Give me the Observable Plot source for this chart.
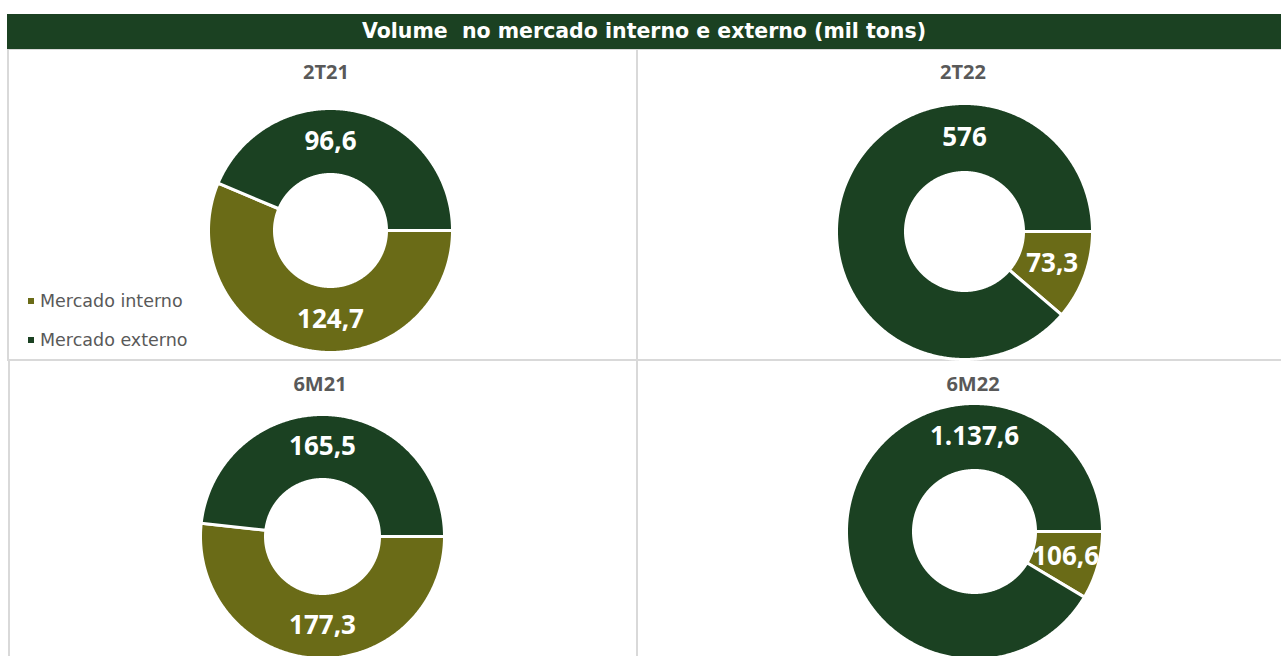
<!DOCTYPE html>
<html>
<head>
<meta charset="utf-8">
<script src="https://cdn.jsdelivr.net/npm/d3@7"></script>
<script src="https://cdn.jsdelivr.net/npm/@observablehq/plot@0.6"></script>
<style>
  html, body { margin: 0; padding: 0; background: #fff; }
  body { width: 1281px; height: 656px; overflow: hidden; position: relative; font-family: "Open Sans", sans-serif; }
  .abs { position: absolute; }
  .titlebar { left: 7px; top: 14px; width: 1274px; height: 35px; background: #1b4122; color: #fff;
    font-family: "DejaVu Sans", sans-serif; font-weight: 700; font-size: 20.5px; line-height: 35px; text-align: center; white-space: pre; }
  .panel { box-sizing: border-box; border: 2px solid #d9d9d9; background: #fff; }
  .ptitle { font-weight: 700; font-size: 20px; color: #595959; text-align: center; width: 200px; line-height: 24px; }
  .legend { font-family: "DejaVu Sans", sans-serif; font-size: 17.5px; color: #595959; line-height: 24px; white-space: nowrap; }
  .legend span.sw { display: inline-block; width: 6px; height: 6px; margin-right: 6px; vertical-align: middle; position: relative; top: -1px; }
</style>
</head>
<body>
<script>
// ---------- data ----------
const periods = ["2T21", "2T22", "6M21", "6M22"];
const categories = ["Mercado interno", "Mercado externo"];
const interno = [124.7, 73.3, 177.3, 106.6];
const externo = [96.6, 576, 165.5, 1137.6];
const colors = ["#6a6b17", "#1b4122"];
const titleText = "Volume  no mercado interno e externo (mil tons)";

// ---------- layout (page coordinates) ----------
const panelBoxes = [
  {left: 7,   top: 48,  width: 631, height: 313},
  {left: 636, top: 48,  width: 700, height: 313},
  {left: 8,   top: 359, width: 630, height: 400},
  {left: 636, top: 359, width: 700, height: 400}
];
const donutLayout = [
  {cx: 330, cy: 230, r: 122, ri: 56, tx: 326, ty: 72},
  {cx: 964, cy: 231, r: 128, ri: 59, tx: 963, ty: 72},
  {cx: 322, cy: 536, r: 122, ri: 57, tx: 320, ty: 384},
  {cx: 974, cy: 531, r: 128, ri: 61, tx: 973, ty: 384}
];

const fmt = d3.formatLocale({decimal: ",", thousands: ".", grouping: [3], currency: ["R$", ""]}).format(",.1~f");
const FONT = "Open Sans, sans-serif";

const body = document.body;
function el(cls, style, html) {
  const d = document.createElement("div");
  d.className = "abs " + cls;
  Object.assign(d.style, style);
  if (html !== undefined) d.innerHTML = html;
  body.appendChild(d);
  return d;
}

// panels
panelBoxes.forEach(b => el("panel", {left: b.left + "px", top: b.top + "px", width: b.width + "px", height: b.height + "px"}));
// title bar
el("titlebar", {}, "").textContent = titleText;

function donut(i) {
  const L = donutLayout[i];
  const vals = [interno[i], externo[i]];
  const total = d3.sum(vals);
  const pad = 4;
  const size = 2 * L.r + 2 * pad;
  const ri = L.ri / L.r;
  let acc = 0;
  const slices = categories.map((c, k) => {
    const a0 = Math.PI / 2 + acc / total * 2 * Math.PI;
    acc += vals[k];
    const a1 = Math.PI / 2 + acc / total * 2 * Math.PI;
    return {category: c, value: vals[k], a0, a1};
  });
  const pts = [];
  for (const s of slices) {
    const n = Math.max(2, Math.ceil((s.a1 - s.a0) / (Math.PI / 360)));
    for (let j = 0; j <= n; j++) {
      const a = s.a0 + (s.a1 - s.a0) * j / n;
      pts.push({category: s.category, x: Math.sin(a), y: Math.cos(a)});
    }
    for (let j = n; j >= 0; j--) {
      const a = s.a0 + (s.a1 - s.a0) * j / n;
      pts.push({category: s.category, x: ri * Math.sin(a), y: ri * Math.cos(a)});
    }
  }
  const lr = (1 + ri) / 2;
  const labels = slices.map(s => {
    let a;
    if (s.a0 < 2 * Math.PI && s.a1 > 2 * Math.PI) a = 0;
    else if (s.a0 < Math.PI && s.a1 > Math.PI) a = Math.PI;
    else a = (s.a0 + s.a1) / 2;
    return {x: lr * Math.sin(a), y: lr * Math.cos(a), text: fmt(s.value)};
  });
  const plot = Plot.plot({
    width: size, height: size, margin: 0,
    x: {domain: [-1, 1], range: [pad, size - pad], axis: null},
    y: {domain: [-1, 1], range: [size - pad, pad], axis: null},
    color: {domain: categories, range: colors},
    style: {background: "transparent", overflow: "visible"},
    marks: [
      Plot.line(pts, {x: "x", y: "y", z: "category", fill: "category", stroke: "white", strokeWidth: 3, curve: "linear-closed"}),
      Plot.text(labels, {x: "x", y: "y", text: "text", fill: "white", fontSize: 26, fontWeight: "bold", fontFamily: FONT})
    ]
  });
  const wrap = el("", {left: (L.cx - L.r - pad) + "px", top: (L.cy - L.r - pad) + "px"});
  wrap.appendChild(plot);
  el("ptitle", {left: (L.tx - 100) + "px", top: (L.ty - 12) + "px"}).textContent = periods[i];
}
periods.forEach((p, i) => donut(i));

// legend
const leg = el("legend", {left: "28px", top: "289px"});
categories.forEach((c, k) => {
  const row = document.createElement("div");
  row.style.marginBottom = k === 0 ? "15px" : "0";
  row.innerHTML = `<span class="sw" style="background:${colors[k]}"></span>${c}`;
  leg.appendChild(row);
});
</script>
</body>
</html>
